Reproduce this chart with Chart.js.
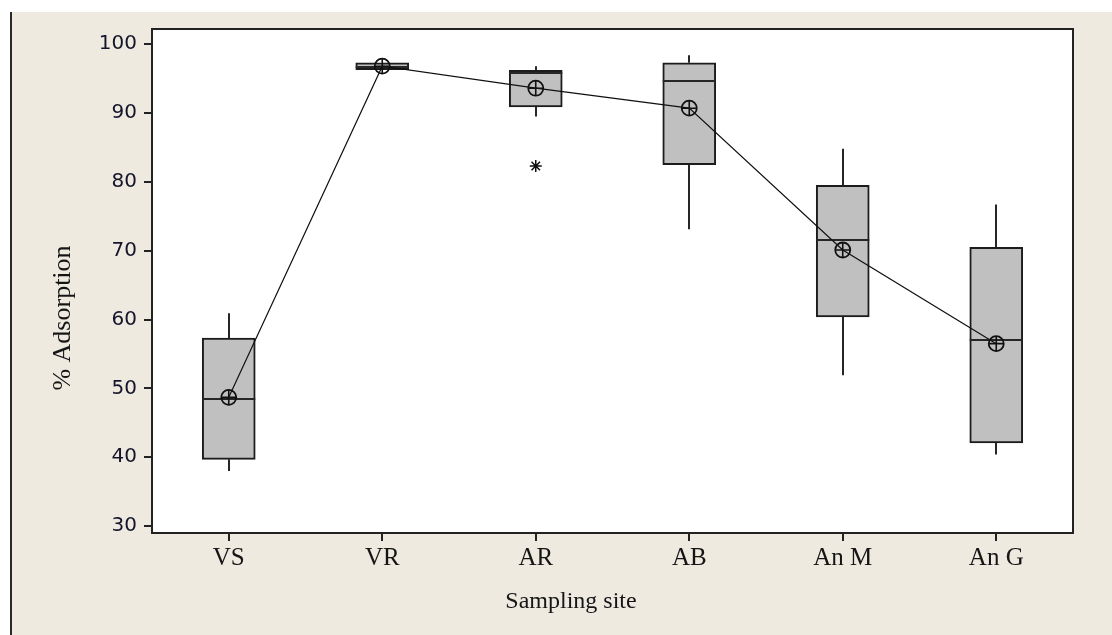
<!DOCTYPE html>
<html>
<head>
<meta charset="utf-8">
<script src="https://cdn.jsdelivr.net/npm/chart.js@4.4.1/dist/chart.umd.min.js"></script>
<style>
  html, body { margin: 0; padding: 0; background: #ffffff; }
  #wrap { position: relative; width: 1112px; height: 635px; }
</style>
</head>
<body>
<div id="wrap"><canvas id="c"></canvas></div>
<script>
// ---- data ----
const categories   = ['VS', 'VR', 'AR', 'AB', 'An M', 'An G'];
const whiskerLow   = [38.0, 96.3, 89.5, 73.1, 51.9, 40.4];
const quartile1    = [39.7, 96.3, 90.9, 82.5, 60.4, 42.1];
const medians      = [48.4, 96.7, 95.8, 94.6, 71.6, 57.0];
const quartile3    = [57.3, 97.3, 96.2, 97.3, 79.5, 70.5];
const whiskerHigh  = [60.9, 97.3, 96.8, 98.4, 84.8, 76.7];
const means        = [48.7, 96.8, 93.6, 90.7, 70.1, 56.5];
const outliers     = [null, null, 82.3, null, null, null];
const yTickValues  = [30, 40, 50, 60, 70, 80, 90, 100];

const boxRanges = quartile1.map((q, i) => [q, quartile3[i]]);

const BEIGE = '#EEEAE0';
const INK = '#1c1c1c';

const boxPlugin = {
  id: 'boxExtras',
  beforeDraw(chart) {
    const ctx = chart.ctx, a = chart.chartArea;
    ctx.save();
    ctx.fillStyle = '#ffffff';
    ctx.fillRect(0, 0, chart.width, chart.height);
    ctx.fillStyle = BEIGE;
    ctx.fillRect(11, 12, chart.width - 11, chart.height - 12);
    ctx.fillStyle = '#2a2a2a';
    ctx.fillRect(10, 12, 2, chart.height - 12);
    ctx.fillStyle = '#ffffff';
    ctx.fillRect(a.left, a.top, a.right - a.left, a.bottom - a.top);
    ctx.restore();
  },
  afterDatasetDraw(chart, args) {
    if (args.index !== 0) return;
    const ctx = chart.ctx;
    const xs = chart.scales.x, ys = chart.scales.y;
    const meta = chart.getDatasetMeta(0);
    ctx.save();
    ctx.strokeStyle = '#262626';
    ctx.lineWidth = 2;
    categories.forEach((c, i) => {
      const x = Math.round(xs.getPixelForValue(i));
      const bar = meta.data[i];
      const half = bar.width / 2;
      // whiskers
      ctx.beginPath();
      ctx.moveTo(x, ys.getPixelForValue(quartile3[i]));
      ctx.lineTo(x, ys.getPixelForValue(whiskerHigh[i]));
      ctx.moveTo(x, ys.getPixelForValue(quartile1[i]));
      ctx.lineTo(x, ys.getPixelForValue(whiskerLow[i]));
      ctx.stroke();
      // median
      const ym = Math.round(ys.getPixelForValue(medians[i]));
      ctx.beginPath();
      ctx.moveTo(bar.x - half, ym);
      ctx.lineTo(bar.x + half, ym);
      ctx.stroke();
    });
    ctx.restore();
  },
  afterDraw(chart) {
    const ctx = chart.ctx, a = chart.chartArea;
    ctx.save();
    ctx.strokeStyle = '#222';
    ctx.lineWidth = 2;
    ctx.strokeRect(a.left, a.top, a.right - a.left, a.bottom - a.top);
    // axis titles
    ctx.fillStyle = '#151515';
    ctx.textAlign = 'center';
    ctx.textBaseline = 'middle';
    ctx.font = '24px "Liberation Serif", "Times New Roman", serif';
    ctx.fillText('Sampling site', 571, 602);
    ctx.font = '26px "Liberation Serif", "Times New Roman", serif';
    ctx.translate(63, 318);
    ctx.rotate(-Math.PI / 2);
    ctx.fillText('% Adsorption', 0, 0);
    ctx.restore();
  }
};

new Chart(document.getElementById('c'), {
  type: 'bar',
  data: {
    labels: categories,
    datasets: [
      {
        type: 'bar',
        data: boxRanges,
        backgroundColor: '#c0c0c0',
        borderColor: INK,
        borderWidth: 2,
        borderSkipped: false,
        barThickness: 53,
        order: 3
      },
      {
        type: 'line',
        data: means,
        borderColor: '#111',
        borderWidth: 1.2,
        pointStyle: 'circle',
        pointRadius: 7.5,
        pointBorderWidth: 1.8,
        pointBorderColor: '#111',
        pointBackgroundColor: 'rgba(0,0,0,0)',
        order: 1
      },
      {
        type: 'line',
        data: means,
        showLine: false,
        pointStyle: 'cross',
        pointRadius: 7.5,
        pointBorderWidth: 1.6,
        pointBorderColor: '#111',
        order: 0
      },
      {
        type: 'line',
        data: outliers,
        showLine: false,
        pointStyle: 'star',
        pointRadius: 6,
        pointBorderWidth: 1.5,
        pointBorderColor: '#111',
        order: 0
      }
    ]
  },
  options: {
    responsive: true,
    maintainAspectRatio: false,
    animation: false,
    devicePixelRatio: 1,
    layout: { padding: { left: 0, top: 29, right: 39, bottom: 0 } },
    plugins: { legend: { display: false }, tooltip: { enabled: false } },
    scales: {
      x: {
        type: 'category',
        offset: true,
        grid: { display: true, offset: false, drawOnChartArea: false, drawTicks: true, tickLength: 8, color: '#222', lineWidth: 2 },
        border: { display: true, color: '#222', width: 2 },
        ticks: { color: '#151515', font: { family: '"Liberation Serif", "Times New Roman", serif', size: 25 }, padding: 2, maxRotation: 0 },
        afterFit(s) { s.height = 102; }
      },
      y: {
        min: 29,
        max: 102.2,
        grid: { display: true, drawOnChartArea: false, drawTicks: true, tickLength: 8, color: '#222', lineWidth: 2 },
        border: { display: true, color: '#222', width: 2 },
        ticks: { color: '#14142a', font: { family: '"DejaVu Sans", sans-serif', size: 20 }, padding: 7 },
        afterBuildTicks(s) { s.ticks = yTickValues.map(v => ({ value: v })); },
        afterFit(s) { s.width = 152; }
      }
    }
  },
  plugins: [boxPlugin]
});
</script>
</body>
</html>
